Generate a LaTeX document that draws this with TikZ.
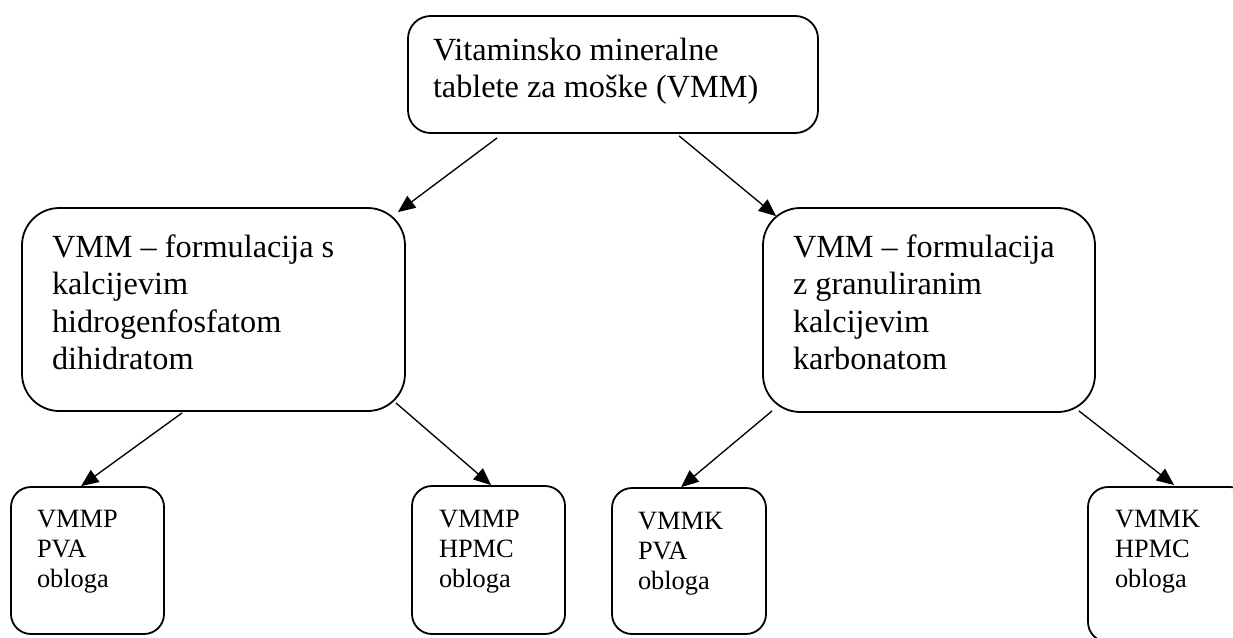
\documentclass[tikz,border=0pt]{standalone}
\usepackage{fontspec}
\setmainfont{Liberation Serif}
\usetikzlibrary{fit,calc,arrows.meta}

% one drawing unit = one pixel of the 1233 x 637 sheet
\tikzset{
  box/.style={draw, line width=1.35pt, inner sep=0pt, fill=none},
  bigbox/.style={box, rounded corners=28pt},
  topbox/.style={box, rounded corners=17pt},
  smallbox/.style={box, rounded corners=15pt},
  label/.style={anchor=base west, inner sep=0pt, outer sep=0pt},
  arr/.style={line width=1pt, -{Triangle[length=13pt,width=11pt]}}
}
\newcommand{\bigtext}[1]{\parbox[t]{9cm}{\fontsize{24.2}{28.2}\selectfont\raggedright #1}}
\newcommand{\smalltext}[1]{\parbox[t]{4cm}{\fontsize{19.8}{22.6}\selectfont\raggedright #1}}

\begin{document}
\begin{tikzpicture}[x=0.75pt,y=-0.75pt]
\useasboundingbox (0,0) rectangle (1233,637);

% boxes
\node[topbox, fit={(408,16)(818,133)}] (b0) {};
\node[bigbox, fit={(22,208)(405,411)}] (b1) {};
\node[bigbox, fit={(763,208)(1095,412)}] (b2) {};
\node[smallbox, fit={(11,487)(164,634)}] (b3) {};
\node[smallbox, fit={(412,486)(565,634)}] (b4) {};
\node[smallbox, fit={(612,488)(766,634)}] (b5) {};
\node[smallbox, fit={(1088,487)(1250,642)}] (b6) {};

% texts
\node[label] (t0) at (433,60) {\bigtext{Vitaminsko mineralne\\tablete za moške (VMM)}};
\node[label] (t1) at (52,257) {\bigtext{VMM – formulacija s\\kalcijevim\\hidrogenfosfatom\\dihidratom}};
\node[label] (t2) at (793,257) {\bigtext{VMM – formulacija\\z granuliranim\\kalcijevim\\karbonatom}};
\node[label] (t3) at (37,527) {\smalltext{VMMP\\PVA\\obloga}};
\node[label] (t4) at (439,527) {\smalltext{VMMP\\HPMC\\obloga}};
\node[label] (t5) at (638,529) {\smalltext{VMMK\\PVA\\obloga}};
\node[label] (t6) at (1115,527) {\smalltext{VMMK\\HPMC\\obloga}};

% connectors
\draw[arr] ($(b0.south west)+(90,4)$) -- ($(b1.north east)+(-8,5)$);
\draw[arr] ($(b0.south west)+(272,2)$) -- ($(b2.north west)+(14,9)$);
\draw[arr] ($(b1.south west)+(161,1)$) -- ($(b3.north west)+(71,0)$);
\draw[arr] ($(b1.south east)+(-10,-9)$) -- ($(b4.north west)+(80,0)$);
\draw[arr] ($(b2.south west)+(10,-2)$) -- ($(b5.north west)+(70,0)$);
\draw[arr] ($(b2.south east)+(-17,-2)$) -- ($(b6.north west)+(87,-1)$);
\end{tikzpicture}
\end{document}
